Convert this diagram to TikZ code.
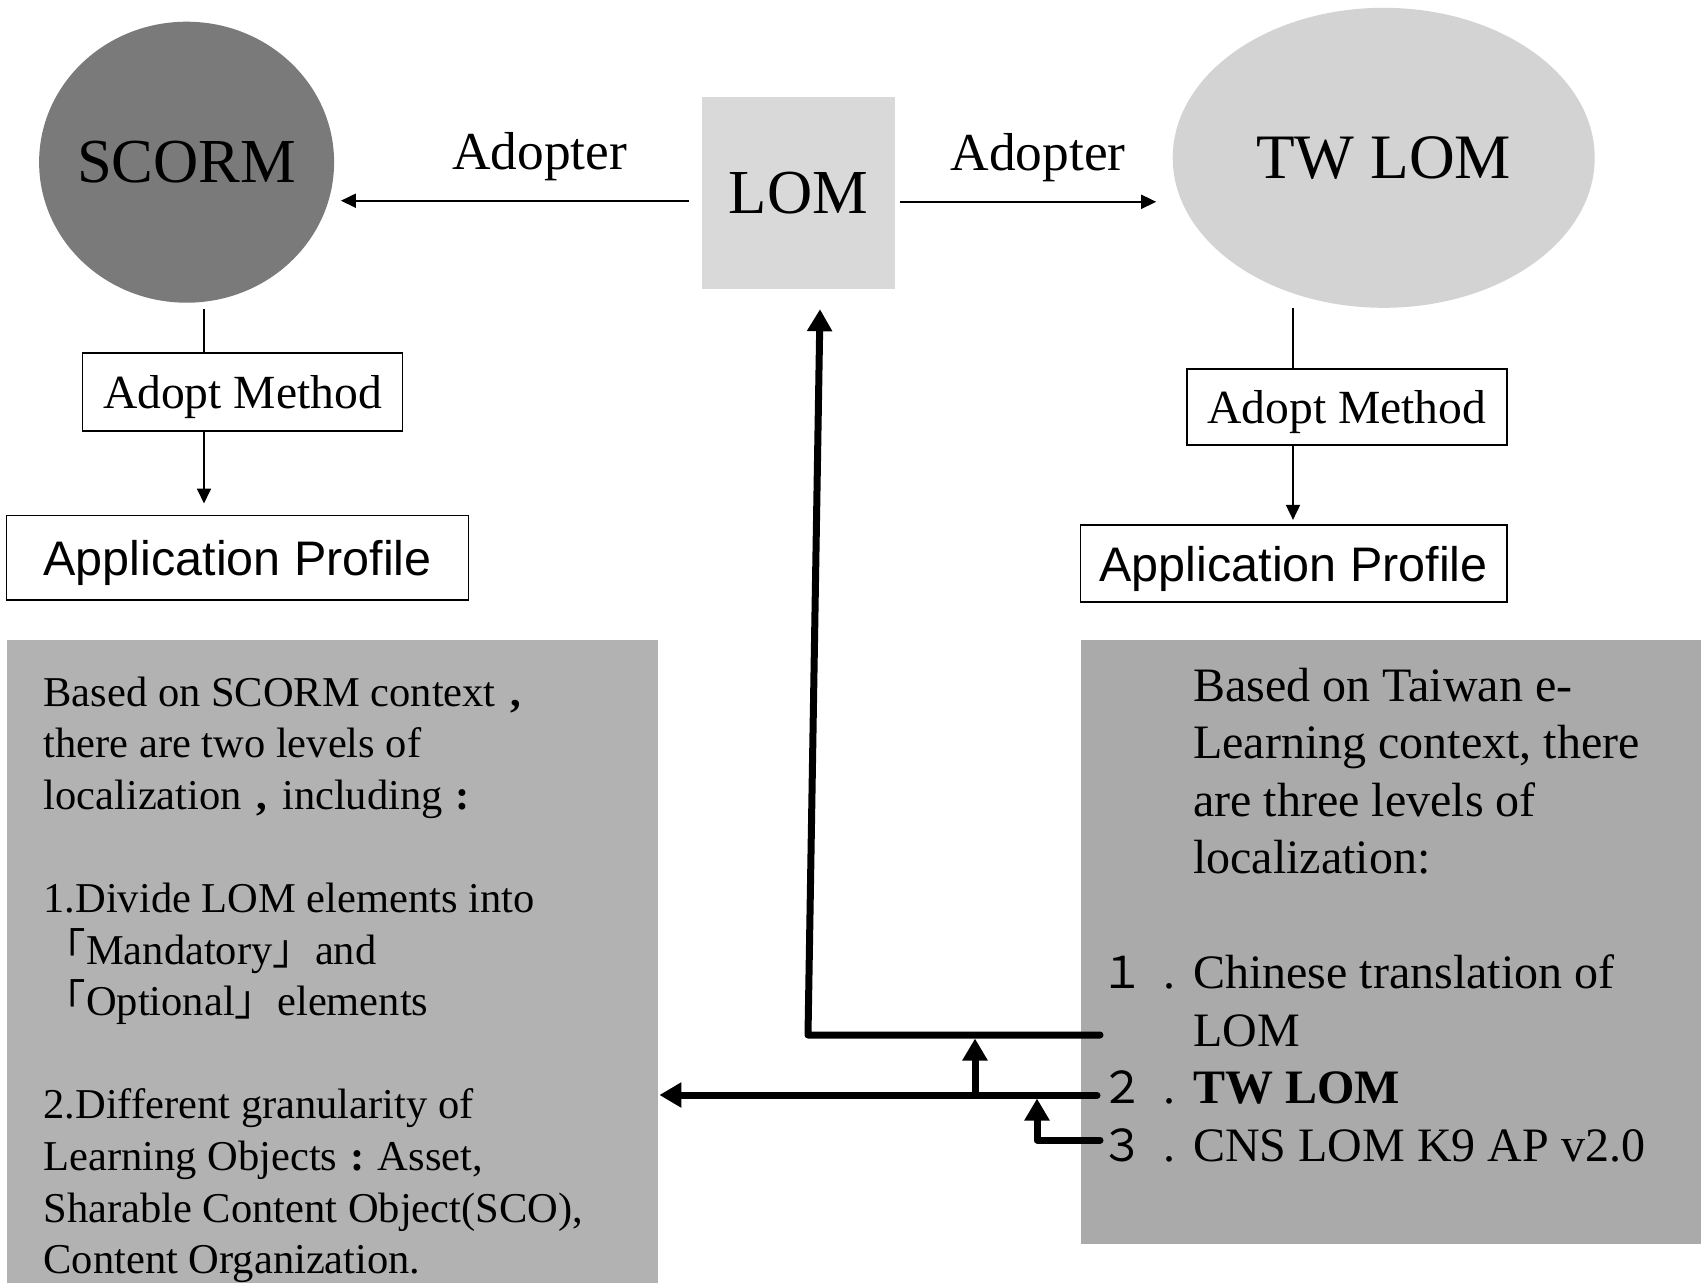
\documentclass[tikz,border=0pt]{standalone}
\usepackage{fontspec}
\setmainfont{Liberation Serif}
\setsansfont{Liberation Sans}
\newfontfamily\cjk{Noto Sans CJK TC}
\usetikzlibrary{shapes.geometric,arrows.meta,calc}
\definecolor{scormgray}{HTML}{7A7A7A}
\definecolor{lomgray}{HTML}{D9D9D9}
\definecolor{twgray}{HTML}{D3D3D3}
\definecolor{leftgray}{HTML}{B2B2B2}
\definecolor{rightgray}{HTML}{AAAAAA}
\tikzset{
  thinline/.style={line width=1.8pt},
  thinarrow/.style={line width=1.8pt,-{Triangle[length=15pt,width=14pt]}},
  thickline/.style={line width=7pt,line cap=round,line join=round},
  thickarrow/.style={thickline,-{Triangle[length=22pt,width=24pt]}},
  framebox/.style={draw,line width=1.6pt,inner sep=0pt,text depth=0pt},
  bigtext/.style={font=\fontsize{62.6}{75}\selectfont,text depth=0pt},
  adopttext/.style={font=\fontsize{53.4}{64}\selectfont,anchor=base},
  methodtext/.style={font=\fontsize{47.6}{57}\selectfont},
  proftext/.style={font=\sffamily\fontsize{48.5}{58}\selectfont},
  ltext/.style={font=\fontsize{42.5}{51}\selectfont,anchor=base west,inner sep=0pt},
  rtext/.style={font=\fontsize{48}{57.5}\selectfont,anchor=base west,inner sep=0pt},
}
\newcommand\cjkc[1]{{\cjk #1}}
\newcommand\wcomma{\makebox[0.95em][c]{\textbf{,}}}
\newcommand\wcolon{\makebox[0.95em][c]{\textbf{:}}}
\newcommand\numlead[1]{\makebox[48pt][c]{\cjk\fontsize{44}{52}\selectfont #1}\makebox[47pt][c]{.}}
\begin{document}
\begin{tikzpicture}[x=1pt,y=-1pt]
\useasboundingbox (0,0) rectangle (1701,1283);

% top nodes
\node[ellipse,fill=scormgray,minimum width=295pt,minimum height=281pt,inner sep=0pt,inner xsep=-10pt,bigtext] (scorm) at (186.6,162.2) {SCORM};
\node[rectangle,fill=lomgray,minimum width=193pt,minimum height=192pt,inner sep=0pt,bigtext] (lom) at (798.5,192.5) {LOM};
\node[ellipse,fill=twgray,minimum width=422pt,minimum height=300pt,inner sep=0pt,font=\fontsize{63.3}{75}\selectfont,text depth=0pt] (twlom) at (1383.7,157.8) {TW LOM};

\node[adopttext] (adl) at (539.7,169) {Adopter};
\node[adopttext] (adr) at (1038,170) {Adopter};

\coordinate (ayl) at (0,200.7);
\coordinate (ayr) at (0,201.8);
\draw[thinarrow,shorten <=13pt,shorten >=6.6pt] (lom.west |- ayl) -- (scorm.east |- ayl);
\draw[thinarrow,shorten <=5pt,shorten >=16.3pt] (lom.east |- ayr) -- (twlom.west |- ayr);

% left column
\node[framebox,minimum width=320pt,minimum height=78pt,methodtext] (amL) at (242.5,391.7) {Adopt Method};
\node[framebox,minimum width=462pt,minimum height=84.6pt,proftext] (apL) at (237.6,557.6) {Application Profile};
\coordinate (sL) at (204,309);
\draw[thinline] (sL) -- (sL |- amL.north);
\draw[thinarrow,shorten >=11pt] (sL |- amL.south) -- (sL |- apL.north);

% right column
\node[framebox,minimum width=320pt,minimum height=76pt,methodtext] (amR) at (1346.8,406.8) {Adopt Method};
\node[framebox,minimum width=426.3pt,minimum height=77pt,proftext] (apR) at (1293.6,563.5) {Application Profile};
\coordinate (sR) at (1293,308);
\draw[thinline] (sR) -- (sR |- amR.north);
\draw[thinarrow,shorten >=4.3pt] (sR |- amR.south) -- (sR |- apR.north);

% bottom boxes
\node[rectangle,fill=leftgray,minimum width=650.9pt,minimum height=643pt,inner sep=0pt,anchor=north west] (lbox) at (6.5,640) {};
\node[rectangle,fill=rightgray,minimum width=620.5pt,minimum height=604pt,inner sep=0pt,anchor=north west] (rbox) at (1080.5,640) {};

% left text
\node[ltext] (l1) at (43.4,706) {Based on SCORM context\wcomma};
\node[ltext] (l2) at (43.4,757.6) {there are two levels of};
\node[ltext] (l3) at (43.4,809.2) {localization\wcomma including\wcolon};
\node[ltext] (l4) at (43.4,912.4) {1.Divide LOM elements into};
\node[ltext] (l5) at (43.4,964) {\cjkc{「}Mandatory\cjkc{」}and};
\node[ltext] (l6) at (43.4,1015.6) {\cjkc{「}Optional\cjkc{」}elements};
\node[ltext] (l7) at (43.4,1118.8) {2.Different granularity of};
\node[ltext] (l8) at (43.4,1170.4) {Learning Objects\wcolon Asset,};
\node[ltext] (l9) at (43.4,1222) {Sharable Content Object(SCO),};
\node[ltext] (l10) at (43.4,1273.6) {Content Organization.};

% right text
\node[rtext] (r1) at (1193,701) {Based on Taiwan e-};
\node[rtext] (r2) at (1193,758.5) {Learning context, there};
\node[rtext] (r3) at (1193,816) {are three levels of};
\node[rtext] (r4) at (1193,873.5) {localization:};
\node[rtext] (r5) at (1098,988.5) {\numlead{１}Chinese translation of};
\node[rtext] (r6) at (1193,1046) {LOM};
\node[rtext] (r7) at (1098,1103.5) {\numlead{２}\textbf{TW LOM}};
\node[rtext] (r8) at (1098,1161) {\numlead{３}CNS LOM K9 AP v2.0};

% thick connectors
\coordinate (u1) at (1100,1035);
\coordinate (u2) at (808,1035);
\coordinate (b1) at (1097,1095);
\coordinate (m1) at (975,1095);
\coordinate (k1) at (1100,1140);
\coordinate (k2) at (1037,1140);
\draw[thickarrow] (u1) -- (u2) -- ($(lom.south)+(21.5,20.5)$);
\draw[thickarrow,shorten >=1.6pt] (b1) -- (lbox.east |- b1);
\draw[thickarrow,shorten >=3.5pt] (m1) -- (m1 |- u1);
\draw[thickarrow,shorten >=3.5pt] (k1) -- (k2) -- (k2 |- b1);
\end{tikzpicture}
\end{document}
